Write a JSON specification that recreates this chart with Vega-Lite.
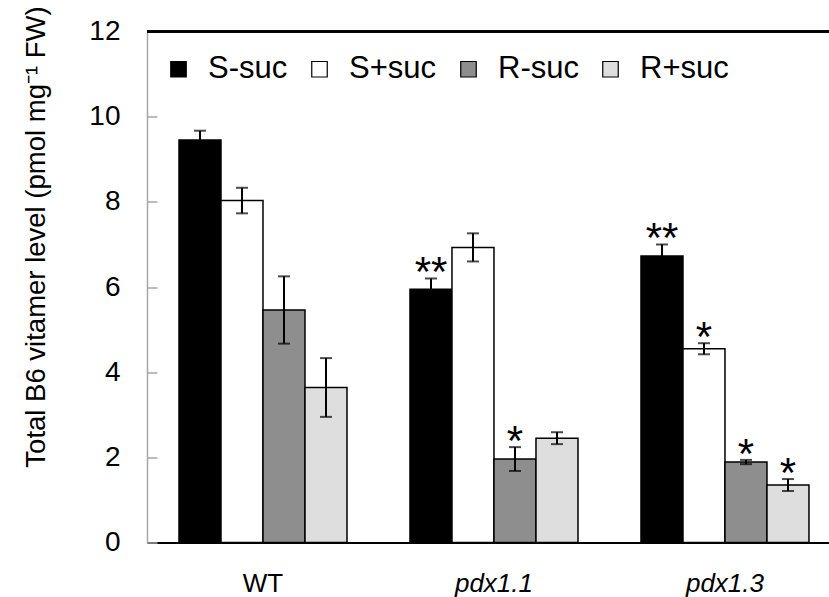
{
  "$schema": "https://vega.github.io/schema/vega-lite/v6.json",
  "width": 682,
  "height": 511,
  "autosize": {"type": "none"},
  "padding": {"left": 147, "top": 31.5, "right": 0, "bottom": 54},
  "background": "white",
  "config": {"font": "Liberation Sans", "view": {"stroke": null}},
  "data": {
    "values": [
      {"genotype": "WT", "treatment": "S-suc", "mean": 9.45, "lo": 9.23, "hi": 9.67, "sig": ""},
      {"genotype": "WT", "treatment": "S+suc", "mean": 8.03, "lo": 7.73, "hi": 8.33, "sig": ""},
      {"genotype": "WT", "treatment": "R-suc", "mean": 5.46, "lo": 4.67, "hi": 6.25, "sig": ""},
      {"genotype": "WT", "treatment": "R+suc", "mean": 3.64, "lo": 2.95, "hi": 4.33, "sig": ""},
      {"genotype": "pdx1.1", "treatment": "S-suc", "mean": 5.95, "lo": 5.7, "hi": 6.2, "sig": "**"},
      {"genotype": "pdx1.1", "treatment": "S+suc", "mean": 6.93, "lo": 6.6, "hi": 7.26, "sig": ""},
      {"genotype": "pdx1.1", "treatment": "R-suc", "mean": 1.96, "lo": 1.68, "hi": 2.24, "sig": "*"},
      {"genotype": "pdx1.1", "treatment": "R+suc", "mean": 2.45, "lo": 2.31, "hi": 2.59, "sig": ""},
      {"genotype": "pdx1.3", "treatment": "S-suc", "mean": 6.73, "lo": 6.46, "hi": 7.0, "sig": "**"},
      {"genotype": "pdx1.3", "treatment": "S+suc", "mean": 4.55, "lo": 4.42, "hi": 4.68, "sig": "*"},
      {"genotype": "pdx1.3", "treatment": "R-suc", "mean": 1.89, "lo": 1.84, "hi": 1.94, "sig": "*"},
      {"genotype": "pdx1.3", "treatment": "R+suc", "mean": 1.35, "lo": 1.21, "hi": 1.49, "sig": "*"}
    ]
  },
  "layer": [
    {
      "encoding": {
        "x": {
          "field": "genotype",
          "type": "nominal",
          "sort": ["WT", "pdx1.1", "pdx1.3"],
          "scale": {"paddingInner": 0.2727, "paddingOuter": 0.1126, "align": 0.615},
          "axis": {
            "title": null,
            "labelAngle": 0,
            "labelFontSize": 26,
            "labelColor": "black",
            "labelPadding": 28,
            "labelFontStyle": {"condition": {"test": "datum.value !== 'WT'", "value": "italic"}, "value": "normal"},
            "ticks": false,
            "domainColor": "black",
            "domainWidth": 2
          }
        },
        "xOffset": {
          "field": "treatment",
          "type": "nominal",
          "sort": ["S-suc", "S+suc", "R-suc", "R+suc"],
          "scale": {"paddingInner": 0, "paddingOuter": 0}
        }
      },
      "layer": [
        {
          "mark": {"type": "bar", "stroke": "black", "strokeWidth": 1.5},
          "encoding": {
            "y": {
              "field": "mean",
              "type": "quantitative",
              "scale": {"domain": [0, 12], "nice": false},
              "axis": {
                "title": "Total B6 vitamer level (pmol mg\u207b\u00b9 FW)",
                "titleFontSize": 27.5,
                "titleFontWeight": "normal",
                "titleColor": "black",
                "titleX": -111,
                "titleY": 205,
                "titleAlign": "center",
                "titleBaseline": "middle",
                "titleAngle": -90,
                "values": [0, 2, 4, 6, 8, 10, 12],
                "grid": false,
                "labelFontSize": 28,
                "labelColor": "black",
                "labelPadding": 37,
                "tickSize": -10,
                "tickColor": "#a6a6a6",
                "tickWidth": 1.5,
                "domainColor": "#a6a6a6",
                "domainWidth": 1.5
              }
            },
            "fill": {
              "field": "treatment",
              "type": "nominal",
              "sort": ["S-suc", "S+suc", "R-suc", "R+suc"],
              "scale": {"domain": ["S-suc", "S+suc", "R-suc", "R+suc"], "range": ["#000000", "#ffffff", "#8e8e8e", "#dedede"]},
              "legend": {
                "title": null,
                "orient": "none",
                "direction": "horizontal",
                "columns": 4,
                "legendX": 16,
                "legendY": 22,
                "padding": 0,
                "labelFontSize": 31,
                "labelColor": "black",
                "labelOffset": 14,
                "columnPadding": 16,
                "symbolType": "square",
                "symbolSize": 240,
                "symbolStrokeColor": "black",
                "symbolStrokeWidth": 1.2,
                "symbolOpacity": 1
              }
            }
          }
        },
        {
          "mark": {"type": "rule", "color": "black", "strokeWidth": 2},
          "encoding": {
            "y": {"field": "lo", "type": "quantitative"},
            "y2": {"field": "hi"}
          }
        },
        {
          "mark": {"type": "tick", "color": "black", "thickness": 2, "size": 12},
          "encoding": {"y": {"field": "lo", "type": "quantitative"}}
        },
        {
          "mark": {"type": "tick", "color": "black", "thickness": 2, "size": 12},
          "encoding": {"y": {"field": "hi", "type": "quantitative"}}
        },
        {
          "transform": [{"filter": "datum.sig !== ''"}],
          "mark": {"type": "text", "fontSize": 42, "baseline": "alphabetic", "dy": 8, "color": "black"},
          "encoding": {
            "y": {"field": "hi", "type": "quantitative"},
            "text": {"field": "sig"}
          }
        }
      ]
    },
    {
      "mark": {"type": "rule", "color": "black", "strokeWidth": 1.5},
      "encoding": {"y": {"datum": 12}}
    }
  ]
}
